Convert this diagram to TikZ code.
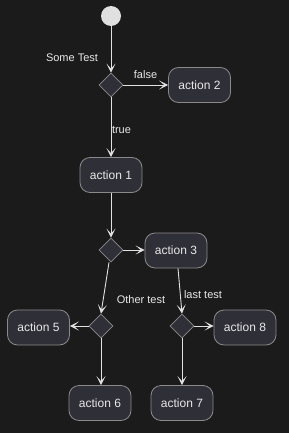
\documentclass[tikz,border=0pt]{standalone}
\usepackage{fontspec}
\setmainfont{Liberation Sans}
\usetikzlibrary{shapes.geometric,arrows.meta}
\definecolor{bg}{RGB}{27,27,27}
\definecolor{boxfill}{RGB}{47,47,56}
\definecolor{boxline}{RGB}{138,138,138}
\definecolor{linec}{RGB}{225,225,225}
\definecolor{txt}{RGB}{232,232,232}
\definecolor{startc}{RGB}{224,224,224}
\tikzset{
  act/.style={draw=boxline, fill=boxfill, rounded corners=10pt, minimum width=62pt, minimum height=35pt, inner sep=0pt, text=txt, font=\fontsize{12}{14}\selectfont, line width=0.8pt},
  dec/.style={draw=boxline, fill=boxfill, diamond, aspect=1, minimum width=24pt, minimum height=24pt, inner sep=0pt, line width=0.8pt},
  conn/.style={draw=linec, line width=0.9pt, -{Stealth[length=9pt,width=9pt,inset=5pt]}},
  lbl/.style={text=txt, font=\fontsize{11}{13}\selectfont, inner sep=0pt},
}
\begin{document}
\begin{tikzpicture}[x=1pt,y=-1pt]
\fill[bg] (0,0) rectangle (289,433);
\useasboundingbox (0,0) rectangle (289,433);
\node[circle, fill=startc, minimum size=20pt, inner sep=0pt] (start) at (111,16) {};
\node[dec] (d1) at (111,85) {};
\node[act] (a2) at (199.5,85) {action 2};
\node[act] (a1) at (111,175) {action 1};
\node[dec] (d2) at (111,250) {};
\node[act] (a3) at (176,250.5) {action 3};
\node[dec] (d3) at (101,326) {};
\node[dec] (d4) at (182,326) {};
\node[act] (a5) at (38.5,327.5) {action 5};
\node[act] (a8) at (245,327.5) {action 8};
\node[act] (a6) at (100,403) {action 6};
\node[act] (a7) at (182,403) {action 7};
\node[lbl] (l1) at (72,58) {Some Test};
\node[lbl] (l2) at (145.5,75) {false};
\node[lbl] (l3) at (121.5,130) {true};
\node[lbl] (l4) at (141,300) {Other test};
\node[lbl] (l5) at (203,295) {last test};
\coordinate (d2b) at ([xshift=-2pt]d2.south);
\coordinate (a3b) at ([xshift=2pt]a3.south);
\draw[conn] (start) -- (d1.north);
\draw[conn] (d1.east) -- (a2.west);
\draw[conn] (d1.south) -- (a1.north);
\draw[conn] (a1.south) -- (d2.north);
\draw[conn] (d2.east) -- (a3.west |- d2.east);
\draw[conn] (d2b) -- (d3.north);
\draw[conn] (a3b) -- (d4.north);
\draw[conn] (d3.west) -- (a5.east |- d3.west);
\draw[conn] (d3.south) -- (a6.north -| d3.south);
\draw[conn] (d4.east) -- (a8.west |- d4.east);
\draw[conn] (d4.south) -- (a7.north);
\end{tikzpicture}
\end{document}
